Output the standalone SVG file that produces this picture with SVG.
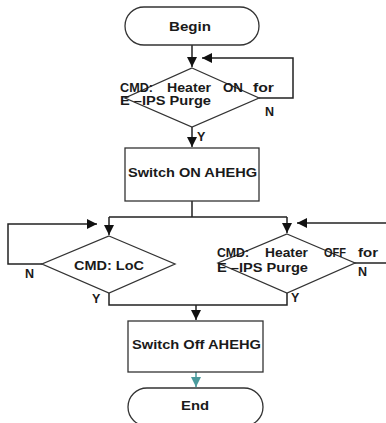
<svg xmlns="http://www.w3.org/2000/svg" width="386" height="423" viewBox="0 0 386 423">
<defs>
<marker id="ah" markerUnits="userSpaceOnUse" markerWidth="10" markerHeight="10" viewBox="0 0 10 10" refX="10" refY="5" orient="auto">
<path d="M0,0 L10,5 L0,10 Z" fill="#111"/>
</marker>
<marker id="aht" markerUnits="userSpaceOnUse" markerWidth="10" markerHeight="10" viewBox="0 0 10 10" refX="10" refY="5" orient="auto">
<path d="M0,0 L10,5 L0,10 Z" fill="#4a9a9c"/>
</marker>
</defs>
<style>
.sh{fill:#fff;stroke:#333;stroke-width:1.3}
.ln{fill:none;stroke:#222;stroke-width:1.5}
.t{font-family:"Liberation Sans",Arial,sans-serif;font-weight:bold;font-size:12.5px;fill:#1a1a1a}
.c{text-anchor:middle}
</style>
<rect width="386" height="423" fill="#fff"/>
<g id="connectors">
<path class="ln" d="M192,45 V67" marker-end="url(#ah)"/>
<path class="ln" d="M259,98 H293 V58 H202" marker-end="url(#ah)"/>
<path class="ln" d="M192,127 V147" marker-end="url(#ah)"/>
<path class="ln" d="M192,201 V217 M109,217 H287"/>
<path class="ln" d="M109,217 V235" marker-end="url(#ah)"/>
<path class="ln" d="M287,217 V233" marker-end="url(#ah)"/>
<path class="ln" d="M42,264 H8 V224 H97" marker-end="url(#ah)"/>
<path class="ln" d="M386,223 H297" marker-end="url(#ah)"/>
<path class="ln" d="M353,263 H386"/>
<path class="ln" d="M109,293 V305 H287 V293"/>
<path class="ln" d="M196,305 V320" marker-end="url(#ah)"/>
<path fill="none" stroke="#4a9a9c" stroke-width="1.5" d="M196,372 V387" marker-end="url(#aht)"/>
</g>
<g id="begin">
<rect class="sh" x="125" y="7" width="134" height="38" rx="19"/>
<text class="t c" x="190" y="31" textLength="42" lengthAdjust="spacingAndGlyphs">Begin</text>
</g>
<g id="d1">
<path class="sh" d="M192,68 L259,98 L192,127 L125,98 Z"/>
<text class="t" y="92"><tspan x="120" textLength="33" lengthAdjust="spacingAndGlyphs">CMD:</tspan> <tspan x="167" textLength="44" lengthAdjust="spacingAndGlyphs">Heater</tspan> <tspan x="223" textLength="20" lengthAdjust="spacingAndGlyphs">ON</tspan> <tspan x="253" textLength="21" lengthAdjust="spacingAndGlyphs">for</tspan></text>
<text class="t" x="120" y="105" textLength="91" lengthAdjust="spacingAndGlyphs">E –IPS Purge</text>
<text class="t" x="265" y="116">N</text>
<text class="t" x="197" y="141">Y</text>
</g>
<g id="switchOn">
<rect class="sh" x="125" y="148" width="134" height="53"/>
<text class="t" x="128" y="177" textLength="129" lengthAdjust="spacingAndGlyphs">Switch ON AHEHG</text>
</g>
<g id="d2">
<path class="sh" d="M109,236 L175,264 L109,293 L42,264 Z"/>
<text class="t" x="74" y="270" textLength="70" lengthAdjust="spacingAndGlyphs">CMD: LoC</text>
<text class="t" x="25" y="278">N</text>
<text class="t" x="92" y="303">Y</text>
</g>
<g id="d3">
<path class="sh" d="M287,234 L355,263 L287,293 L218,263 Z"/>
<text class="t" y="257"><tspan x="217" textLength="32" lengthAdjust="spacingAndGlyphs">CMD:</tspan> <tspan x="265" textLength="43" lengthAdjust="spacingAndGlyphs">Heater</tspan> <tspan x="324" textLength="22" lengthAdjust="spacingAndGlyphs">OFF</tspan> <tspan x="358" textLength="20" lengthAdjust="spacingAndGlyphs">for</tspan></text>
<text class="t" x="217" y="272" textLength="91" lengthAdjust="spacingAndGlyphs">E –IPS Purge</text>
<text class="t" x="358" y="276">N</text>
<text class="t" x="291" y="302">Y</text>
</g>
<g id="switchOff">
<rect class="sh" x="128" y="321" width="135" height="51"/>
<text class="t" x="132" y="349" textLength="129" lengthAdjust="spacingAndGlyphs">Switch Off AHEHG</text>
</g>
<g id="end">
<rect class="sh" x="128" y="388" width="135" height="38" rx="19"/>
<text class="t c" x="195" y="410" textLength="28" lengthAdjust="spacingAndGlyphs">End</text>
</g>
</svg>
